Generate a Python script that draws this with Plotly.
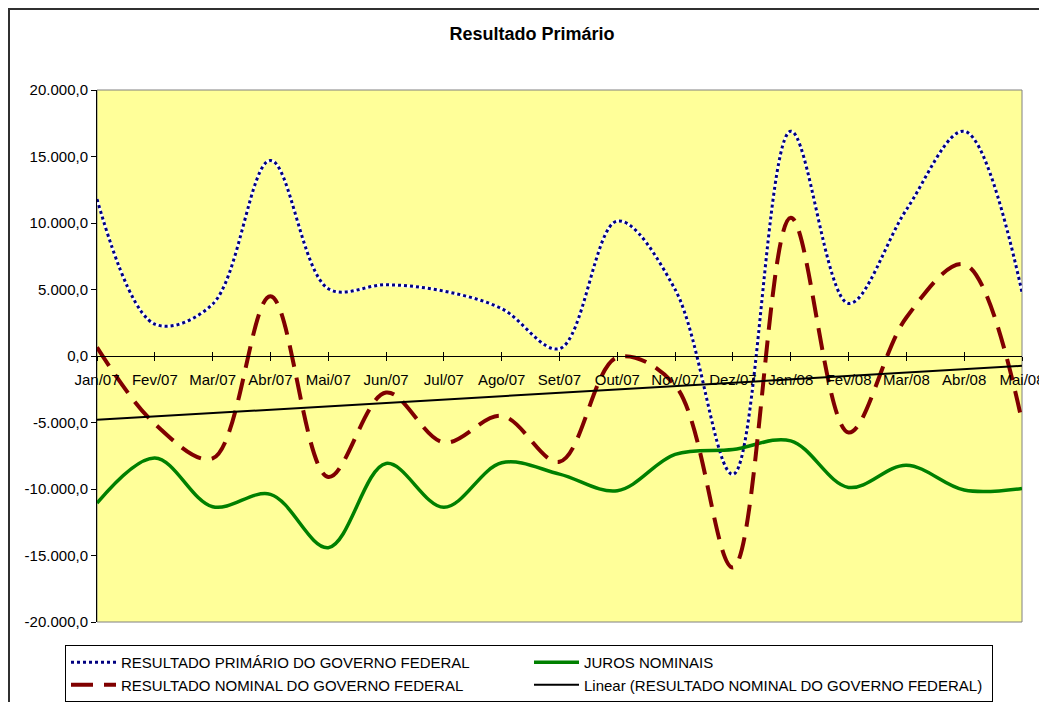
import plotly.graph_objects as go
import numpy as np

months = ["Jan/07", "Fev/07", "Mar/07", "Abr/07", "Mai/07", "Jun/07", "Jul/07", "Ago/07",
          "Set/07", "Out/07", "Nov/07", "Dez/07", "Jan/08", "Fev/08", "Mar/08", "Abr/08", "Mai/08"]

resultado_primario = [11800, 2400, 3900, 14700, 5060, 5360, 4880, 3560, 550, 10150,
                      5000, -8900, 16900, 3950, 11000, 16900, 4800]
resultado_nominal = [650, -5100, -7700, 4500, -9100, -2750, -6500, -4500, -7950, -100,
                     -2200, -15900, 10400, -5750, 2900, 6900, -4900]
juros_nominais = [-11060, -7660, -11330, -10400, -14410, -8080, -11380, -8030, -8880, -10130,
                  -7400, -7030, -6380, -9880, -8210, -10080, -9960]

y_tick_values = [-20000, -15000, -10000, -5000, 0, 5000, 10000, 15000, 20000]
y_tick_labels = ["-20.000,0", "-15.000,0", "-10.000,0", "-5.000,0", "0,0",
                 "5.000,0", "10.000,0", "15.000,0", "20.000,0"]

series_names = ["RESULTADO PRIMÁRIO DO GOVERNO FEDERAL", "JUROS NOMINAIS",
                "RESULTADO NOMINAL DO GOVERNO FEDERAL",
                "Linear (RESULTADO NOMINAL DO GOVERNO FEDERAL)"]

# linear trend of the nominal result (least squares over month index)
idx = np.arange(len(months))
slope, intercept = np.polyfit(idx, resultado_nominal, 1)
trend = slope * idx + intercept

FONT = "Liberation Sans, Arial, sans-serif"
W, H = 1039, 694
L, T, PW, PH = 89, 82, 925, 532

fig = go.Figure()
fig.add_trace(go.Scatter(x=months, y=resultado_primario, mode="lines", showlegend=False,
                         hoverinfo="skip",
                         line=dict(color="white", width=3, shape="spline", smoothing=1)))
fig.add_trace(go.Scatter(x=months, y=resultado_primario, mode="lines", name=series_names[0],
                         line=dict(color="#000080", width=3, dash="dot", shape="spline", smoothing=1)))
fig.add_trace(go.Scatter(x=months, y=juros_nominais, mode="lines", name=series_names[1],
                         line=dict(color="#008000", width=3.5, shape="spline", smoothing=1)))
fig.add_trace(go.Scatter(x=months, y=resultado_nominal, mode="lines", name=series_names[2],
                         line=dict(color="#800000", width=4, dash="22px,11px", shape="spline", smoothing=1)))
fig.add_trace(go.Scatter(x=months, y=trend, mode="lines", name=series_names[3], xaxis="x2",
                         line=dict(color="black", width=2)))

fig.update_layout(
    width=W, height=H,
    margin=dict(l=L, r=W - L - PW, t=T, b=H - T - PH, autoexpand=False),
    paper_bgcolor="white",
    plot_bgcolor="#FFFF99",
    font=dict(family=FONT, size=15, color="black"),
    title=dict(text="<b>Resultado Primário</b>", x=524 / W, xref="container", xanchor="center",
               y=1 - 26 / H, yref="container", yanchor="middle",
               font=dict(family=FONT, size=18, color="black")),
    xaxis=dict(type="category", categoryorder="array", categoryarray=months,
               range=[0, len(months) - 1], anchor="free", position=0.5,
               showline=True, linecolor="black", linewidth=1,
               ticks="outside", ticklen=4, tickcolor="black",
               showgrid=False, zeroline=False, ticklabelstandoff=6,
               tickfont=dict(family=FONT, size=15, color="black")),
    xaxis2=dict(type="category", categoryorder="array", categoryarray=months,
                range=[0, len(months) - 1], overlaying="x", anchor="free", position=0.5,
                showline=False, ticks="inside", ticklen=4, tickcolor="black",
                showticklabels=False, showgrid=False, zeroline=False),
    yaxis=dict(range=[-20000, 20000], tickvals=y_tick_values, ticktext=y_tick_labels,
               showline=True, linecolor="black", linewidth=1,
               ticks="outside", ticklen=5, tickcolor="black",
               showgrid=False, zeroline=False,
               tickfont=dict(family=FONT, size=15, color="black")),
    legend=dict(orientation="h", x=(57 - L) / PW, y=(T + PH - 637) / PH,
                xanchor="left", yanchor="top",
                entrywidth=403, entrywidthmode="pixels", itemwidth=45,
                bgcolor="white", bordercolor="black", borderwidth=1,
                font=dict(family=FONT, size=15, color="black"), traceorder="normal"),
    shapes=[
        dict(type="rect", xref="paper", yref="paper", x0=0, x1=1, y0=0, y1=1,
             line=dict(color="#808080", width=1), layer="below"),
        dict(type="rect", xref="paper", yref="paper",
             x0=(1 - L) / PW, x1=1.3, y0=-0.4, y1=(T + PH - 1) / PH,
             line=dict(color="#303030", width=2), layer="below"),
    ],
)

fig.write_html("out.html")
